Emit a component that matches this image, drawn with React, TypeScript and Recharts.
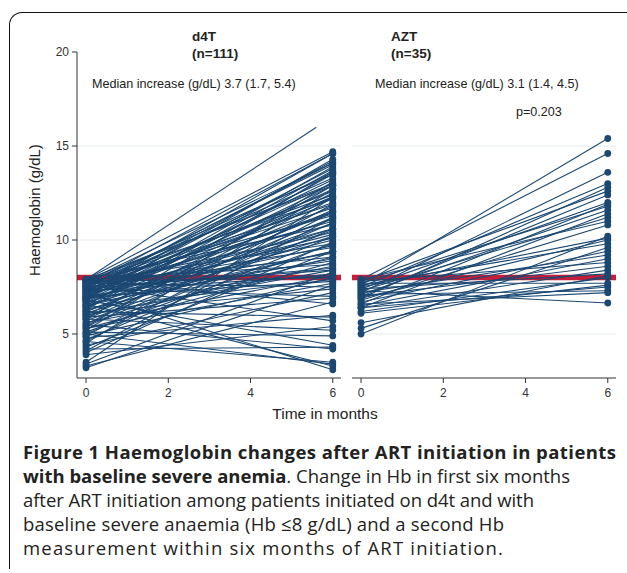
import React from 'react';
import { LineChart, Line, XAxis, YAxis, ReferenceLine } from 'recharts';

// ---- data ----
const months = [0, 6];
const xTicks = [0, 2, 4, 6];
const yTicks = [5, 10, 15, 20];
const gridValues = [5, 10, 15];
const severeThreshold = 8;

const d4tBaseline = [
  7.2, 6.6, 5.0, 4.6, 5.5, 4.2, 6.8, 5.1, 5.8, 3.9, 7.6, 6.2, 4.8, 7.9, 3.3, 5.9,
  7.4, 4.4, 6.1, 7.7, 3.2, 5.3, 7.0, 6.4, 7.8, 4.9, 7.3, 5.6, 6.9, 3.4, 7.5, 6.0,
  7.9, 7.6, 7.2, 6.8, 7.8, 7.4, 6.5, 7.0, 5.8, 7.7, 6.3, 7.5, 6.9, 5.2, 7.1, 7.9,
  6.6, 4.5, 7.3, 6.0, 7.6, 5.5, 6.7, 7.8, 7.2, 4.9, 6.4, 7.5, 5.9, 7.0, 6.2, 7.7,
  4.1, 6.8, 7.4, 5.4, 7.9, 6.5, 7.1, 5.7, 7.6, 6.1, 4.7, 7.3, 6.7, 7.8, 5.1, 6.9,
  7.5, 6.3, 4.3, 7.2, 5.6, 7.7, 6.6, 7.0, 5.3, 7.9, 6.0, 7.4, 3.5, 6.4, 7.1, 5.0,
  7.6, 6.8, 4.0, 7.3, 5.8, 7.8, 6.2, 7.0, 4.6, 7.5, 6.9, 5.4, 7.2, 6.5,
];
const d4tMonth6 = [
  3.1, 3.3, 3.4, 3.5, 4.2, 4.3, 4.4, 4.9, 5.2, 5.4, 5.7, 5.9, 6.0, 6.6, 6.7, 6.9,
  7.0, 7.2, 7.4, 7.5, 7.6, 7.7, 7.8, 7.9, 8.0, 8.0, 8.1, 8.1, 8.2, 8.3, 8.4, 8.4,
  14.7, 14.6, 14.6, 14.3, 14.1, 14.1, 13.9, 13.8, 13.6, 13.5, 13.5, 13.3, 13.2, 13.1, 13.0, 12.9,
  12.9, 12.7, 12.6, 12.5, 12.4, 12.3, 12.2, 12.2, 12.0, 11.9, 11.8, 11.7, 11.6, 11.5, 11.5, 11.3,
  11.2, 11.1, 11.0, 10.9, 10.8, 10.6, 10.6, 10.5, 10.4, 10.2, 10.2, 10.1, 10.0, 9.8, 9.8, 9.7,
  9.6, 9.4, 9.4, 9.3, 9.1, 9.1, 9.0, 8.9, 8.8, 8.7, 8.6, 8.5, 12.3, 13.7, 14.2, 10.6,
  11.9, 12.7, 9.9, 13.6, 11.2, 13.0, 10.9, 12.3, 11.5, 14.0, 10.3, 12.9, 11.4, 9.4,
];
// one d4T patient whose second measurement came before month 6
const d4tEarlyTimes = [0, 5.6];
const d4tEarlyValues = [7.9, 16.0];

const aztBaseline = [
  7.6, 7.9, 7.2, 7.5, 6.9, 7.8, 7.0, 7.4, 6.6, 7.7, 7.1, 6.4, 7.3, 7.9, 6.8, 5.0,
  7.5, 6.9, 7.6, 5.3, 7.2, 6.5, 7.8, 7.0, 6.4, 7.4, 5.6, 6.2, 7.7, 6.4, 7.1, 6.6,
  7.3, 6.1, 6.7,
];
const aztMonth6 = [
  15.4, 14.6, 13.6, 13.0, 12.8, 12.6, 12.4, 12.0, 11.9, 11.8, 11.6, 11.4, 11.2, 11.0, 10.8, 10.2,
  10.1, 10.0, 9.8, 9.6, 9.2, 9.0, 8.8, 8.6, 8.4, 8.2, 8.1, 8.0, 7.7, 7.5, 7.3, 7.2,
  6.65, 7.6, 9.4,
];

// caption lines: [bold part, regular part]
const captionLines: [string, string][] = [
  ['Figure 1 Haemoglobin changes after ART initiation in patients', ''],
  ['with baseline severe anemia', '. Change in Hb in first six months'],
  ['', 'after ART initiation among patients initiated on d4t and with'],
  ['', 'baseline severe anaemia (Hb \u22648 g/dL) and a second Hb'],
  ['', 'measurement within six months of ART initiation.'],
];
const captionWidths = [593, 547, 511, 481, 480];

// ---- styling ----
const BLUE = '#1b4872';
const RED = '#c41e3a';
const GRID = '#e3ebee';
const AXIS = '#333333';
const DOT_R = 3.4;
const X_DOMAIN: [number, number] = [-0.22, 6.2];
const Y_DOMAIN: [number, number] = [2.66, 20];
const FONT = '"Liberation Sans", Arial, sans-serif';
const CAPTION_FONT = '"Open Sans", "Noto Sans", sans-serif';

const toSeries = (times: number[], values: number[]) =>
  times.map((t, i) => ({ x: t, y: values[i] }));

const startOnlyDot = (props: any) => {
  const { cx, cy, index } = props;
  if (index !== 0) return <g key={`e-${index}`} />;
  return <circle key={`e-${index}`} cx={cx} cy={cy} r={DOT_R} fill={BLUE} stroke="none" />;
};

const tickStyle = { fontSize: 12, fill: AXIS, fontFamily: FONT };

function Panel({
  baseline,
  month6,
  extra,
  width,
  margin,
  showY,
  idPrefix,
}: {
  baseline: number[];
  month6: number[];
  extra?: { times: number[]; values: number[] };
  width: number;
  margin: { top: number; right: number; bottom: number; left: number };
  showY: boolean;
  idPrefix: string;
}) {
  return (
    <LineChart width={width} height={430} margin={margin}>
      <XAxis
        type="number"
        dataKey="x"
        domain={X_DOMAIN}
        allowDataOverflow
        ticks={xTicks}
        height={40}
        tick={tickStyle}
        tickSize={5}
        tickMargin={5}
        stroke={AXIS}
        axisLine={{ stroke: AXIS }}
        tickLine={{ stroke: AXIS }}
        interval={0}
      />
      <YAxis
        type="number"
        dataKey="y"
        domain={Y_DOMAIN}
        allowDataOverflow
        ticks={yTicks}
        width={60}
        hide={!showY}
        tick={tickStyle}
        tickSize={5}
        tickMargin={3}
        stroke={AXIS}
        axisLine={{ stroke: AXIS }}
        tickLine={{ stroke: AXIS }}
        interval={0}
      />
      {gridValues.map((g) => (
        <ReferenceLine key={`g${g}`} y={g} stroke={GRID} strokeWidth={1} />
      ))}
      <ReferenceLine y={severeThreshold} stroke={RED} strokeWidth={5.5} />
      {baseline.map((b, i) => (
        <Line
          key={`${idPrefix}-${i}`}
          data={toSeries(months, [b, month6[i]])}
          dataKey="y"
          stroke={BLUE}
          strokeWidth={1.1}
          dot={{ r: DOT_R, fill: BLUE, stroke: 'none', strokeWidth: 0 }}
          activeDot={false}
          isAnimationActive={false}
          legendType="none"
        />
      ))}
      {extra && (
        <Line
          key={`${idPrefix}-extra`}
          data={toSeries(extra.times, extra.values)}
          dataKey="y"
          stroke={BLUE}
          strokeWidth={1.1}
          dot={startOnlyDot}
          activeDot={false}
          isAnimationActive={false}
          legendType="none"
        />
      )}
    </LineChart>
  );
}

const abs = (left: number, top: number, extra: React.CSSProperties = {}): React.CSSProperties => ({
  position: 'absolute',
  left,
  top,
  whiteSpace: 'nowrap',
  ...extra,
});

export default function App() {
  const titleStyle: React.CSSProperties = {
    fontFamily: FONT,
    fontWeight: 'bold',
    fontSize: 13.5,
    color: '#222',
    lineHeight: '16px',
  };
  const noteStyle: React.CSSProperties = {
    fontFamily: FONT,
    fontSize: 12.6,
    color: '#222',
    lineHeight: '14px',
  };
  return (
    <div
      style={{
        position: 'absolute',
        left: 0,
        top: 0,
        width: 627,
        height: 573,
        background: '#fff',
        overflow: 'hidden',
      }}
    >
      {/* frame */}
      <div
        style={{
          position: 'absolute',
          left: 9,
          top: 12,
          width: 660,
          height: 556,
          borderTop: '1.5px solid #111',
          borderLeft: '1.5px solid #111',
          borderTopLeftRadius: 13,
        }}
      />
      <div style={abs(0, 0)}>
        <Panel
          baseline={d4tBaseline}
          month6={d4tMonth6}
          extra={{ times: d4tEarlyTimes, values: d4tEarlyValues }}
          width={345}
          margin={{ top: 52, right: 4, bottom: 12, left: 17 }}
          showY
          idPrefix="d4t"
        />
      </div>
      <div style={abs(340, 0)}>
        <Panel
          baseline={aztBaseline}
          month6={aztMonth6}
          width={287}
          margin={{ top: 52, right: 11, bottom: 12, left: 12 }}
          showY={false}
          idPrefix="azt"
        />
      </div>

      {/* panel titles */}
      <div style={abs(192, 29, titleStyle)}>d4T</div>
      <div style={abs(192, 46, titleStyle)}>(n=111)</div>
      <div style={abs(391, 29, titleStyle)}>AZT</div>
      <div style={abs(391, 46, titleStyle)}>(n=35)</div>
      <div style={abs(92, 77, noteStyle)}>Median increase (g/dL) 3.7 (1.7, 5.4)</div>
      <div style={abs(375, 77, noteStyle)}>Median increase (g/dL) 3.1 (1.4, 4.5)</div>
      <div style={abs(516, 105, noteStyle)}>p=0.203</div>

      {/* axis titles */}
      <div
        style={abs(35, 210, {
          fontFamily: FONT,
          fontSize: 15,
          color: '#222',
          transform: 'translate(-50%, -50%) rotate(-90deg)',
          lineHeight: '18px',
        })}
      >
        Haemoglobin (g/dL)
      </div>
      <div
        style={abs(325, 414, {
          fontFamily: FONT,
          fontSize: 15.5,
          color: '#222',
          transform: 'translate(-50%, -50%)',
          lineHeight: '18px',
        })}
      >
        Time in months
      </div>

      {/* caption */}
      <svg
        width={627}
        height={140}
        style={{ position: 'absolute', left: 0, top: 433 }}
      >
        {captionLines.map(([bold, regular], i) => (
          <text
            key={`cap${i}`}
            x={23}
            y={26 + i * 24}
            textLength={captionWidths[i]}
            lengthAdjust="spacing"
            fontFamily={CAPTION_FONT}
            fontSize={18.5}
            fill="#222"
          >
            {bold && <tspan fontWeight="bold">{bold}</tspan>}
            {regular && <tspan>{regular}</tspan>}
          </text>
        ))}
      </svg>
    </div>
  );
}
